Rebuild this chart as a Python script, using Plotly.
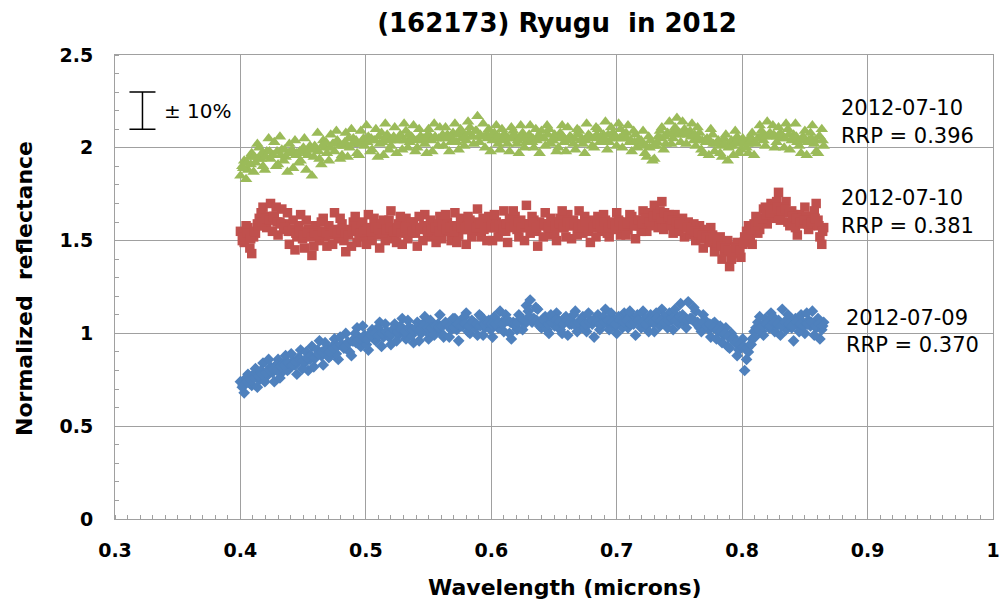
import plotly.graph_objects as go

# wavelength grid (microns), first pass
wavelength_a = [
    0.400, 0.403, 0.406, 0.409, 0.412, 0.415, 0.418, 0.421, 0.424, 0.427,
    0.430, 0.433, 0.436, 0.439, 0.442, 0.445, 0.448, 0.451, 0.454, 0.457,
    0.460, 0.463, 0.466, 0.469, 0.472, 0.475, 0.478, 0.481, 0.484, 0.487,
    0.490, 0.493, 0.496, 0.499, 0.502, 0.505, 0.508, 0.511, 0.514, 0.517,
    0.520, 0.523, 0.526, 0.529, 0.532, 0.535, 0.538, 0.541, 0.544, 0.547,
    0.550, 0.553, 0.556, 0.559, 0.562, 0.565, 0.568, 0.571, 0.574, 0.577,
    0.580, 0.583, 0.586, 0.589, 0.592, 0.595, 0.598, 0.601, 0.604, 0.607,
    0.610, 0.613, 0.616, 0.619, 0.622, 0.625, 0.628, 0.631, 0.634, 0.637,
    0.640, 0.643, 0.646, 0.649, 0.652, 0.655, 0.658, 0.661, 0.664, 0.667,
    0.670, 0.673, 0.676, 0.679, 0.682, 0.685, 0.688, 0.691, 0.694, 0.697,
    0.700, 0.703, 0.706, 0.709, 0.712, 0.715, 0.718, 0.721, 0.724, 0.727,
    0.730, 0.733, 0.736, 0.739, 0.742, 0.745, 0.748, 0.751, 0.754, 0.757,
    0.760, 0.763, 0.766, 0.769, 0.772, 0.775, 0.778, 0.781, 0.784, 0.787,
    0.790, 0.793, 0.796, 0.799, 0.802, 0.805, 0.808, 0.811, 0.814, 0.817,
    0.820, 0.823, 0.826, 0.829, 0.832, 0.835, 0.838, 0.841, 0.844, 0.847,
    0.850, 0.853, 0.856, 0.859, 0.862, 0.865,
]

# wavelength grid (microns), second pass (interleaved)
wavelength_b = [
    0.4015, 0.4045, 0.4075, 0.4105, 0.4135, 0.4165, 0.4195, 0.4225, 0.4255, 0.4285,
    0.4315, 0.4345, 0.4375, 0.4405, 0.4435, 0.4465, 0.4495, 0.4525, 0.4555, 0.4585,
    0.4615, 0.4645, 0.4675, 0.4705, 0.4735, 0.4765, 0.4795, 0.4825, 0.4855, 0.4885,
    0.4915, 0.4945, 0.4975, 0.5005, 0.5035, 0.5065, 0.5095, 0.5125, 0.5155, 0.5185,
    0.5215, 0.5245, 0.5275, 0.5305, 0.5335, 0.5365, 0.5395, 0.5425, 0.5455, 0.5485,
    0.5515, 0.5545, 0.5575, 0.5605, 0.5635, 0.5665, 0.5695, 0.5725, 0.5755, 0.5785,
    0.5815, 0.5845, 0.5875, 0.5905, 0.5935, 0.5965, 0.5995, 0.6025, 0.6055, 0.6085,
    0.6115, 0.6145, 0.6175, 0.6205, 0.6235, 0.6265, 0.6295, 0.6325, 0.6355, 0.6385,
    0.6415, 0.6445, 0.6475, 0.6505, 0.6535, 0.6565, 0.6595, 0.6625, 0.6655, 0.6685,
    0.6715, 0.6745, 0.6775, 0.6805, 0.6835, 0.6865, 0.6895, 0.6925, 0.6955, 0.6985,
    0.7015, 0.7045, 0.7075, 0.7105, 0.7135, 0.7165, 0.7195, 0.7225, 0.7255, 0.7285,
    0.7315, 0.7345, 0.7375, 0.7405, 0.7435, 0.7465, 0.7495, 0.7525, 0.7555, 0.7585,
    0.7615, 0.7645, 0.7675, 0.7705, 0.7735, 0.7765, 0.7795, 0.7825, 0.7855, 0.7885,
    0.7915, 0.7945, 0.7975, 0.8005, 0.8035, 0.8065, 0.8095, 0.8125, 0.8155, 0.8185,
    0.8215, 0.8245, 0.8275, 0.8305, 0.8335, 0.8365, 0.8395, 0.8425, 0.8455, 0.8485,
    0.8515, 0.8545, 0.8575, 0.8605, 0.8635,
]

# wavelength grid (microns), third pass (band centre)
wavelength_c = [
    0.4022, 0.4052, 0.4082, 0.4112, 0.4142, 0.4172, 0.4202, 0.4232, 0.4262, 0.4292,
    0.4322, 0.4352, 0.4382, 0.4412, 0.4442, 0.4472, 0.4502, 0.4532, 0.4562, 0.4592,
    0.4622, 0.4652, 0.4682, 0.4712, 0.4742, 0.4772, 0.4802, 0.4832, 0.4862, 0.4892,
    0.4922, 0.4952, 0.4982, 0.5012, 0.5042, 0.5072, 0.5102, 0.5132, 0.5162, 0.5192,
    0.5222, 0.5252, 0.5282, 0.5312, 0.5342, 0.5372, 0.5402, 0.5432, 0.5462, 0.5492,
    0.5522, 0.5552, 0.5582, 0.5612, 0.5642, 0.5672, 0.5702, 0.5732, 0.5762, 0.5792,
    0.5822, 0.5852, 0.5882, 0.5912, 0.5942, 0.5972, 0.6002, 0.6032, 0.6062, 0.6092,
    0.6122, 0.6152, 0.6182, 0.6212, 0.6242, 0.6272, 0.6302, 0.6332, 0.6362, 0.6392,
    0.6422, 0.6452, 0.6482, 0.6512, 0.6542, 0.6572, 0.6602, 0.6632, 0.6662, 0.6692,
    0.6722, 0.6752, 0.6782, 0.6812, 0.6842, 0.6872, 0.6902, 0.6932, 0.6962, 0.6992,
    0.7022, 0.7052, 0.7082, 0.7112, 0.7142, 0.7172, 0.7202, 0.7232, 0.7262, 0.7292,
    0.7322, 0.7352, 0.7382, 0.7412, 0.7442, 0.7472, 0.7502, 0.7532, 0.7562, 0.7592,
    0.7622, 0.7652, 0.7682, 0.7712, 0.7742, 0.7772, 0.7802, 0.7832, 0.7862, 0.7892,
    0.7922, 0.7952, 0.7982, 0.8012, 0.8042, 0.8072, 0.8102, 0.8132, 0.8162, 0.8192,
    0.8222, 0.8252, 0.8282, 0.8312, 0.8342, 0.8372, 0.8402, 0.8432, 0.8462, 0.8492,
    0.8522, 0.8552, 0.8582, 0.8612, 0.8642,
]

# 2012-07-10, RRP = 0.396 (green triangles)
green_a = [
    1.85, 1.93, 1.88, 1.97, 1.92, 2.00, 1.90, 1.98, 1.94, 2.03,
    1.91, 1.99, 1.95, 2.02, 1.89, 1.97, 1.93, 2.05, 1.96, 1.85,
    1.99, 1.94, 2.04, 1.97, 2.07, 1.98, 2.03, 1.96, 2.08, 2.00,
    2.05, 1.97, 2.09, 2.01, 2.06, 1.99, 2.10, 2.02, 1.96, 2.07,
    2.01, 2.11, 2.04, 1.99, 2.09, 2.03, 2.12, 2.00, 2.06, 2.02,
    2.10, 1.98, 2.05, 2.11, 2.01, 2.07, 2.03, 2.13, 1.99, 2.08,
    2.04, 2.11, 2.02, 2.17, 2.06, 2.00, 2.10, 2.04, 2.12, 1.99,
    2.07, 2.02, 2.11, 2.05, 1.97, 2.08, 2.03, 2.12, 2.00, 2.06,
    2.09, 2.01, 2.10, 2.04, 1.98, 2.08, 2.03, 2.11, 2.05, 1.99,
    2.09, 2.02, 2.13, 2.06, 2.00, 2.10, 2.04, 2.14, 2.03, 2.08,
    2.01, 2.10, 2.05, 2.12, 1.98, 2.07, 2.02, 2.09, 1.95, 2.04,
    1.94, 2.06, 2.11, 2.02, 2.14, 2.05, 2.16, 2.03, 2.10, 2.07,
    2.13, 2.01, 2.08, 1.97, 2.05, 2.10, 1.98, 2.04, 1.95, 2.07,
    2.01, 1.96, 2.06, 1.99, 2.03, 1.97, 2.08, 2.02, 2.12, 2.04,
    2.14, 2.06, 2.00, 2.11, 2.05, 2.13, 1.99, 2.07, 2.03, 1.97,
    2.09, 2.04, 2.12, 1.98, 2.06, 2.01,
]
green_b = [
    1.90, 1.83, 1.95, 1.87, 2.02, 1.94, 1.88, 2.05, 1.96, 1.90,
    2.06, 1.93, 1.87, 1.98, 2.04, 1.92, 1.99, 1.88, 2.01, 1.95,
    2.08, 1.91, 2.00, 1.93, 2.02, 2.09, 1.94, 2.01, 1.95, 2.10,
    2.02, 1.96, 2.04, 2.12, 1.98, 2.04, 1.95, 2.08, 2.13, 1.99,
    2.05, 1.97, 2.07, 2.13, 2.00, 2.06, 1.98, 2.10, 2.04, 1.97,
    2.06, 2.13, 2.01, 2.05, 2.11, 1.98, 2.08, 2.03, 2.10, 2.01,
    2.14, 2.06, 2.09, 2.03, 2.13, 2.07, 1.98, 2.08, 2.02, 2.10,
    2.05, 1.98, 2.09, 2.02, 2.12, 2.00, 2.06, 2.03, 2.10, 1.97,
    2.05, 2.12, 2.02, 2.07, 2.00, 2.12, 1.98, 2.06, 2.02, 2.10,
    2.04, 1.97, 2.07, 2.01, 2.11, 2.03, 2.07, 1.99, 2.11, 2.05,
    2.13, 2.00, 2.08, 2.03, 2.09, 2.00, 2.04, 1.97, 2.06, 1.93,
    2.01, 2.09, 1.99, 2.08, 2.02, 2.11, 2.07, 2.14, 2.02, 2.09,
    2.04, 2.11, 1.99, 2.04, 1.96, 2.07, 2.02, 1.97, 2.05, 1.93,
    2.04, 2.09, 1.97, 2.05, 2.00, 2.06, 1.96, 2.05, 2.09, 2.01,
    2.07, 2.12, 2.03, 2.08, 2.00, 2.10, 2.04, 2.13, 2.01, 2.06,
    1.96, 2.08, 2.02, 1.97, 2.10,
]
green_c = [
    1.89, 1.92, 1.91, 1.95, 1.94, 1.97, 1.95, 1.98, 1.96, 1.98,
    1.96, 1.99, 1.97, 1.99, 1.96, 1.98, 2.00, 1.97, 1.99, 2.01,
    1.98, 2.01, 2.03, 2.00, 2.02, 2.04, 2.01, 2.03, 2.05, 2.02,
    2.04, 2.02, 2.05, 2.03, 2.05, 2.04, 2.06, 2.03, 2.05, 2.04,
    2.06, 2.04, 2.06, 2.04, 2.07, 2.05, 2.04, 2.06, 2.05, 2.07,
    2.04, 2.06, 2.05, 2.07, 2.05, 2.06, 2.04, 2.07, 2.05, 2.06,
    2.08, 2.06, 2.09, 2.07, 2.06, 2.05, 2.07, 2.05, 2.06, 2.04,
    2.06, 2.05, 2.07, 2.04, 2.06, 2.05, 2.07, 2.05, 2.04, 2.06,
    2.05, 2.07, 2.04, 2.06, 2.05, 2.06, 2.04, 2.06, 2.05, 2.07,
    2.05, 2.04, 2.06, 2.05, 2.07, 2.06, 2.05, 2.07, 2.05, 2.06,
    2.05, 2.07, 2.05, 2.04, 2.03, 2.04, 2.02, 2.01, 2.00, 2.01,
    2.03, 2.05, 2.06, 2.07, 2.08, 2.09, 2.08, 2.07, 2.08, 2.06,
    2.07, 2.05, 2.04, 2.03, 2.04, 2.02, 2.03, 2.01, 2.02, 2.00,
    2.01, 2.03, 2.02, 2.03, 2.02, 2.04, 2.03, 2.05, 2.07, 2.06,
    2.08, 2.07, 2.06, 2.07, 2.05, 2.07, 2.05, 2.06, 2.04, 2.05,
    2.03, 2.05, 2.04, 2.06, 2.04,
]

# 2012-07-10, RRP = 0.381 (red squares)
red_a = [
    1.55, 1.49, 1.57, 1.43, 1.54, 1.62, 1.68, 1.57, 1.70, 1.63,
    1.53, 1.67, 1.59, 1.48, 1.61, 1.52, 1.64, 1.46, 1.56, 1.42,
    1.58, 1.50, 1.62, 1.47, 1.55, 1.65, 1.51, 1.59, 1.44, 1.56,
    1.60, 1.49, 1.57, 1.52, 1.64, 1.50, 1.58, 1.46, 1.61, 1.55,
    1.66, 1.51, 1.59, 1.48, 1.62, 1.54, 1.60, 1.47, 1.57, 1.64,
    1.52, 1.58, 1.49, 1.63, 1.55, 1.60, 1.50, 1.65, 1.53, 1.59,
    1.48, 1.61, 1.56, 1.67, 1.52, 1.58, 1.63, 1.50, 1.60, 1.55,
    1.66, 1.49, 1.58, 1.63, 1.52, 1.57, 1.69, 1.54, 1.61, 1.47,
    1.59, 1.65, 1.53, 1.60, 1.50, 1.62, 1.57, 1.64, 1.51, 1.59,
    1.66, 1.54, 1.60, 1.49, 1.58, 1.63, 1.55, 1.61, 1.52, 1.59,
    1.65, 1.53, 1.60, 1.56, 1.63, 1.51, 1.58, 1.66, 1.55, 1.62,
    1.69, 1.57, 1.71, 1.60, 1.64, 1.54, 1.61, 1.58, 1.52, 1.60,
    1.55, 1.50, 1.58, 1.46, 1.53, 1.57, 1.44, 1.50, 1.40, 1.47,
    1.36, 1.43, 1.49, 1.41, 1.52, 1.58, 1.48, 1.63, 1.56, 1.67,
    1.59, 1.70, 1.62, 1.76, 1.65, 1.71, 1.58, 1.64, 1.53, 1.61,
    1.68, 1.56, 1.63, 1.70, 1.52, 1.57,
]
red_b = [
    1.50, 1.58, 1.46, 1.52, 1.59, 1.65, 1.58, 1.63, 1.55, 1.68,
    1.60, 1.56, 1.65, 1.55, 1.45, 1.58, 1.51, 1.61, 1.53, 1.47,
    1.55, 1.60, 1.52, 1.58, 1.48, 1.56, 1.62, 1.50, 1.55, 1.47,
    1.63, 1.54, 1.60, 1.48, 1.57, 1.62, 1.53, 1.59, 1.50, 1.61,
    1.55, 1.49, 1.63, 1.56, 1.51, 1.60, 1.54, 1.63, 1.50, 1.56,
    1.61, 1.53, 1.59, 1.51, 1.64, 1.55, 1.58, 1.49, 1.62, 1.56,
    1.63, 1.52, 1.60, 1.55, 1.62, 1.50, 1.57, 1.64, 1.52, 1.59,
    1.55, 1.62, 1.66, 1.56, 1.61, 1.50, 1.59, 1.63, 1.55, 1.60,
    1.52, 1.58, 1.62, 1.54, 1.59, 1.66, 1.52, 1.58, 1.61, 1.53,
    1.57, 1.63, 1.55, 1.61, 1.52, 1.57, 1.64, 1.54, 1.60, 1.56,
    1.61, 1.57, 1.53, 1.64, 1.58, 1.61, 1.55, 1.59, 1.65, 1.58,
    1.63, 1.66, 1.56, 1.62, 1.58, 1.64, 1.55, 1.62, 1.57, 1.53,
    1.59, 1.55, 1.51, 1.56, 1.49, 1.53, 1.47, 1.52, 1.44, 1.50,
    1.40, 1.47, 1.43, 1.48, 1.55, 1.51, 1.59, 1.54, 1.62, 1.68,
    1.63, 1.66, 1.71, 1.61, 1.68, 1.60, 1.66, 1.57, 1.64, 1.59,
    1.63, 1.58, 1.66, 1.61, 1.48,
]
red_c = [
    1.52, 1.54, 1.51, 1.55, 1.58, 1.60, 1.62, 1.61, 1.63, 1.60,
    1.59, 1.57, 1.55, 1.56, 1.54, 1.55, 1.53, 1.54, 1.52, 1.54,
    1.53, 1.55, 1.54, 1.53, 1.55, 1.54, 1.56, 1.54, 1.53, 1.55,
    1.56, 1.54, 1.55, 1.56, 1.55, 1.57, 1.56, 1.54, 1.56, 1.57,
    1.55, 1.56, 1.54, 1.57, 1.56, 1.55, 1.57, 1.56, 1.58, 1.55,
    1.56, 1.57, 1.55, 1.58, 1.56, 1.57, 1.55, 1.58, 1.57, 1.56,
    1.58, 1.56, 1.57, 1.59, 1.56, 1.57, 1.58, 1.57, 1.58, 1.56,
    1.59, 1.57, 1.58, 1.60, 1.57, 1.59, 1.58, 1.60, 1.57, 1.58,
    1.59, 1.57, 1.60, 1.58, 1.59, 1.57, 1.60, 1.58, 1.59, 1.57,
    1.58, 1.60, 1.58, 1.57, 1.59, 1.58, 1.60, 1.57, 1.59, 1.58,
    1.60, 1.58, 1.59, 1.60, 1.58, 1.61, 1.59, 1.62, 1.60, 1.63,
    1.64, 1.62, 1.65, 1.63, 1.61, 1.60, 1.59, 1.58, 1.57, 1.56,
    1.55, 1.54, 1.53, 1.52, 1.50, 1.51, 1.49, 1.47, 1.46, 1.45,
    1.44, 1.46, 1.45, 1.49, 1.53, 1.56, 1.58, 1.60, 1.62, 1.64,
    1.65, 1.67, 1.68, 1.66, 1.67, 1.65, 1.63, 1.62, 1.60, 1.61,
    1.59, 1.60, 1.62, 1.58, 1.55,
]

# 2012-07-09, RRP = 0.370 (blue diamonds)
blue_a = [
    0.74, 0.68, 0.78, 0.72, 0.81, 0.75, 0.84, 0.77, 0.82, 0.74,
    0.86, 0.79, 0.88, 0.81, 0.85, 0.78, 0.91, 0.84, 0.80, 0.93,
    0.87, 0.96, 0.83, 0.92, 0.88, 0.97, 0.86, 0.94, 1.00, 0.90,
    0.96, 1.03, 0.93, 0.99, 0.91, 1.02, 0.96, 1.06, 0.98, 1.01,
    0.94, 1.05, 0.99, 1.08, 0.97, 1.03, 0.95, 1.06, 1.00, 1.09,
    0.97, 1.04, 1.01, 1.10, 0.98, 1.05, 1.02, 1.08, 0.96, 1.04,
    1.11, 1.00, 1.06, 0.99, 1.09, 1.03, 1.07, 0.98, 1.05, 1.12,
    1.01, 1.07, 0.97, 1.04, 1.10, 1.02, 1.15, 1.18, 1.08, 1.13,
    1.03, 1.09, 1.00, 1.06, 1.11, 1.02, 1.08, 0.99, 1.05, 1.12,
    1.03, 1.09, 1.01, 1.07, 0.98, 1.10, 1.04, 1.13, 1.02, 1.08,
    1.00, 1.06, 1.11, 1.03, 1.09, 0.99, 1.07, 1.12, 1.04, 1.10,
    1.01, 1.08, 1.13, 1.05, 1.11, 1.02, 1.09, 1.16, 1.06, 1.17,
    1.08, 1.12, 1.03, 1.10, 1.05, 0.98, 1.06, 1.01, 0.95, 1.03,
    0.92, 0.98, 0.88, 0.94, 0.80, 0.90, 0.97, 1.03, 1.09, 0.99,
    1.06, 1.11, 1.01, 1.07, 1.13, 1.02, 1.08, 0.96, 1.05, 1.10,
    1.00, 1.07, 1.12, 1.03, 0.97, 1.06,
]
blue_b = [
    0.71, 0.76, 0.73, 0.78, 0.71, 0.80, 0.74, 0.86, 0.79, 0.83,
    0.76, 0.84, 0.80, 0.89, 0.83, 0.87, 0.81, 0.90, 0.86, 0.82,
    0.91, 0.88, 0.95, 0.87, 0.93, 0.89, 0.98, 0.92, 0.95, 0.88,
    1.00, 0.95, 1.04, 0.94, 1.00, 0.97, 1.03, 0.93, 1.05, 0.98,
    1.02, 0.96, 1.04, 1.00, 1.07, 0.99, 1.02, 0.96, 1.05, 1.01,
    1.07, 0.99, 1.05, 1.00, 1.06, 0.98, 1.08, 1.02, 1.06, 1.09,
    1.01, 1.07, 1.03, 1.10, 0.99, 1.06, 1.02, 1.09, 1.03, 1.06,
    1.10, 1.00, 1.06, 1.02, 1.08, 1.05, 1.12, 1.06, 1.14, 1.04,
    1.08, 1.02, 1.10, 1.04, 1.07, 1.00, 1.09, 1.05, 1.10, 1.01,
    1.07, 1.03, 1.11, 1.05, 1.08, 1.02, 1.09, 1.06, 1.11, 1.04,
    1.09, 1.03, 1.07, 1.12, 1.05, 1.10, 1.03, 1.08, 1.01, 1.06,
    1.11, 1.04, 1.09, 1.03, 1.07, 1.13, 1.05, 1.10, 1.03, 1.08,
    1.14, 1.06, 1.01, 1.07, 1.02, 1.05, 0.97, 1.04, 0.99, 0.93,
    1.00, 0.95, 0.91, 0.97, 0.86, 0.94, 1.01, 1.06, 1.01, 1.08,
    1.03, 1.09, 1.04, 0.99, 1.06, 1.10, 1.03, 1.08, 1.01, 1.06,
    1.11, 1.04, 0.99, 1.08, 1.02,
]
blue_c = [
    0.72, 0.74, 0.75, 0.76, 0.77, 0.78, 0.79, 0.80, 0.81, 0.80,
    0.82, 0.83, 0.84, 0.83, 0.85, 0.86, 0.85, 0.87, 0.88, 0.87,
    0.89, 0.90, 0.91, 0.90, 0.92, 0.93, 0.94, 0.93, 0.95, 0.96,
    0.95, 0.97, 0.98, 0.97, 0.99, 1.00, 0.99, 1.00, 1.01, 1.00,
    1.02, 1.01, 1.02, 1.01, 1.03, 1.02, 1.03, 1.02, 1.04, 1.03,
    1.03, 1.04, 1.03, 1.04, 1.05, 1.04, 1.03, 1.05, 1.04, 1.05,
    1.04, 1.06, 1.05, 1.04, 1.05, 1.06, 1.05, 1.05, 1.06, 1.05,
    1.07, 1.06, 1.05, 1.06, 1.08, 1.07, 1.09, 1.08, 1.07, 1.06,
    1.07, 1.05, 1.06, 1.07, 1.06, 1.05, 1.07, 1.06, 1.05, 1.06,
    1.07, 1.05, 1.06, 1.07, 1.06, 1.05, 1.06, 1.07, 1.06, 1.05,
    1.07, 1.06, 1.07, 1.05, 1.06, 1.07, 1.06, 1.05, 1.07, 1.06,
    1.08, 1.07, 1.06, 1.07, 1.08, 1.07, 1.09, 1.08, 1.07, 1.08,
    1.06, 1.05, 1.06, 1.04, 1.05, 1.03, 1.02, 1.01, 1.00, 0.98,
    0.97, 0.95, 0.94, 0.93, 0.92, 0.94, 0.98, 1.02, 1.04, 1.05,
    1.04, 1.06, 1.05, 1.04, 1.06, 1.05, 1.04, 1.06, 1.05, 1.04,
    1.05, 1.06, 1.04, 1.05, 1.04,
]

series_dates = ["2012-07-10", "2012-07-10", "2012-07-09"]
series_rrp = ["RRP = 0.396", "RRP = 0.381", "RRP = 0.370"]
label_x = [0.8770, 0.8770, 0.8815]
label_date_y = [2.212, 1.730, 1.081]
label_rrp_y = [2.061, 1.578, 0.935]

err_x = 0.3219
err_y = 2.20
err_half = 0.10
err_text = "± 10%"

x_ticks = [0.3, 0.4, 0.5, 0.6, 0.7, 0.8, 0.9, 1.0]
x_ticktext = ["0.3", "0.4", "0.5", "0.6", "0.7", "0.8", "0.9", "1"]
y_ticks = [0, 0.5, 1, 1.5, 2, 2.5]
y_ticktext = ["0", "0.5", "1", "1.5", "2", "2.5"]

GREEN = "#9BBB59"
RED = "#C0504D"
BLUE = "#4F81BD"
GRID = "#A0A0A0"
FONT = "DejaVu Sans"

L, R, T, B = 115, 8, 55, 85
W, H = 1001, 604
PW, PH = W - L - R, H - T - B

wl_all = wavelength_a + wavelength_b + wavelength_c

fig = go.Figure()
fig.add_trace(go.Scatter(x=wl_all, y=blue_a + blue_b + blue_c, mode="markers",
                         marker=dict(symbol="diamond", size=9, color=BLUE, line=dict(width=0))))
fig.add_trace(go.Scatter(x=wl_all, y=red_a + red_b + red_c, mode="markers",
                         marker=dict(symbol="square", size=9.5, color=RED, line=dict(width=0))))
fig.add_trace(go.Scatter(x=wl_all, y=green_a + green_b + green_c, mode="markers",
                         marker=dict(symbol="triangle-up", size=11, color=GREEN, line=dict(width=0))))
fig.add_trace(go.Scatter(x=[err_x], y=[err_y], mode="markers",
                         marker=dict(size=1, color="rgba(0,0,0,0)"),
                         error_y=dict(type="data", array=[err_half], color="black",
                                      thickness=1.5, width=13)))

fig.add_annotation(x=0.3375, y=err_y, xref="x", yref="y", text=err_text,
                   showarrow=False, xanchor="left", yanchor="middle",
                   font=dict(family=FONT, size=20, color="black"))

for d, r, lx, y1, y2 in zip(series_dates, series_rrp, label_x, label_date_y, label_rrp_y):
    fig.add_annotation(x=lx, y=y1, xref="x", yref="y", text=d, showarrow=False,
                       xanchor="left", yanchor="middle",
                       font=dict(family=FONT, size=21, color="black"))
    fig.add_annotation(x=lx, y=y2, xref="x", yref="y", text=r, showarrow=False,
                       xanchor="left", yanchor="middle",
                       font=dict(family=FONT, size=21, color="black"))

# axis titles
fig.add_annotation(x=(565 - L) / PW, y=(H - B - 587) / PH, xref="paper", yref="paper",
                   text="<b>Wavelength (microns)</b>", showarrow=False,
                   xanchor="center", yanchor="middle",
                   font=dict(family=FONT, size=22, color="black"))
fig.add_annotation(x=(24 - L) / PW, y=(H - B - 289) / PH, xref="paper", yref="paper",
                   text="<b>Normalized  reflectance</b>", showarrow=False, textangle=-90,
                   xanchor="center", yanchor="middle",
                   font=dict(family=FONT, size=22, color="black"))

fig.update_layout(
    width=W, height=H,
    margin=dict(l=L, r=R, t=T, b=B, autoexpand=False),
    paper_bgcolor="white", plot_bgcolor="white",
    showlegend=False,
    title=dict(text="<b>(162173) Ryugu  in 2012</b>", x=557 / W, xanchor="center",
               y=1 - 23 / H, yanchor="middle", automargin=False,
               font=dict(family=FONT, size=26, color="black")),
    xaxis=dict(range=[0.3, 1.0], tickvals=x_ticks, ticktext=x_ticktext,
               showgrid=True, gridcolor=GRID, gridwidth=1, automargin=False,
               showline=True, linecolor=GRID, linewidth=1, mirror=True,
               ticks="", ticklabelstandoff=14, zeroline=False,
               tickfont=dict(family=FONT, size=19, color="black", weight="bold"),
               minor=dict(dtick=0.01, ticks="inside", ticklen=4, tickcolor=GRID, showgrid=False)),
    yaxis=dict(range=[0, 2.5], tickvals=y_ticks, ticktext=y_ticktext,
               showgrid=True, gridcolor=GRID, gridwidth=1, automargin=False,
               showline=True, linecolor=GRID, linewidth=1, mirror=True,
               ticks="", ticklabelstandoff=17, zeroline=False,
               tickfont=dict(family=FONT, size=19, color="black", weight="bold"),
               minor=dict(dtick=0.1, ticks="inside", ticklen=4, tickcolor=GRID, showgrid=False)),
)

fig.write_html("out.html", config={"displayModeBar": False},
               post_script="document.body.style.margin='0';document.body.style.padding='0';")
